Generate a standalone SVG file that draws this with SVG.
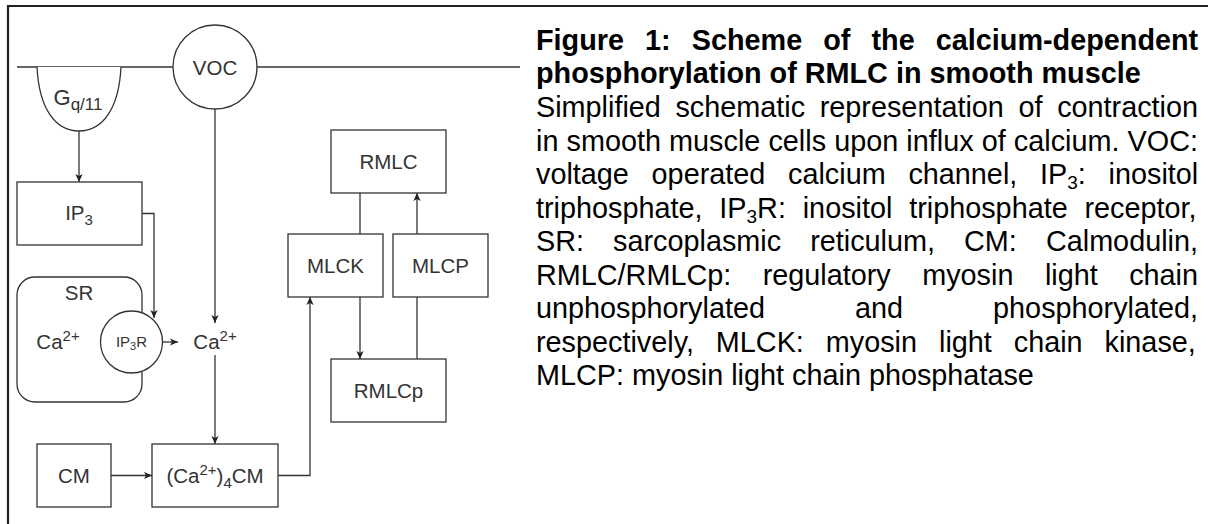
<svg xmlns="http://www.w3.org/2000/svg" width="1208" height="524" viewBox="0 0 1208 524">
<defs>
<style>
.box{fill:#fff;stroke:#333;stroke-width:1.3}
.ln{fill:none;stroke:#333;stroke-width:1.3}
.lbl{font-family:"Liberation Sans",Arial,sans-serif;font-size:20.5px;fill:#333;text-anchor:middle}
.sm{font-size:15px}
.cap{font-family:"Liberation Sans",Arial,sans-serif;font-size:28.8px;fill:#000}
.capb{font-weight:bold}
</style>
<marker id="arr" viewBox="0 0 10 10" refX="10" refY="5" markerWidth="8" markerHeight="8" markerUnits="userSpaceOnUse" orient="auto">
<path d="M0,0.5 L10,5 L0,9.5 L2.5,5 Z" fill="#222"/>
</marker>
</defs>
<rect width="1208" height="524" fill="#fff"/>
<path d="M8,530 V6 H1214" fill="none" stroke="#222" stroke-width="2.2"/>

<g id="membrane">
<line class="ln" x1="17" y1="67" x2="173" y2="67"/>
<line class="ln" x1="257" y1="67" x2="520" y2="67"/>
</g>

<g id="connectors">
<line class="ln" x1="79" y1="131" x2="79" y2="182" marker-end="url(#arr)"/>
<polyline class="ln" points="142,213.5 154,213.5 154,318" marker-end="url(#arr)"/>
<line class="ln" x1="163" y1="342" x2="178" y2="342" marker-end="url(#arr)"/>
<line class="ln" x1="215" y1="109" x2="215" y2="323" marker-end="url(#arr)"/>
<line class="ln" x1="215" y1="355" x2="215" y2="444" marker-end="url(#arr)"/>
<line class="ln" x1="111" y1="475.5" x2="152" y2="475.5" marker-end="url(#arr)"/>
<polyline class="ln" points="278,475.5 310,475.5 310,297" marker-end="url(#arr)"/>
<line class="ln" x1="360" y1="193" x2="360" y2="234"/>
<line class="ln" x1="360" y1="297" x2="360" y2="359" marker-end="url(#arr)"/>
<line class="ln" x1="417" y1="359" x2="417" y2="297"/>
<line class="ln" x1="417" y1="234" x2="417" y2="193" marker-end="url(#arr)"/>
</g>

<g id="gq11">
<path class="box" d="M37,67 C39,108 55,131 79,131 C103,131 119,108 121,67"/>
<text class="lbl" x="78" y="105" style="font-size:22px">G<tspan style="font-size:17px" dy="5">q/11</tspan></text>
</g>

<g id="voc">
<circle class="box" cx="215" cy="67" r="42"/>
<text class="lbl" x="215" y="75">VOC</text>
</g>

<g id="ip3">
<rect class="box" x="17" y="182" width="125" height="63"/>
<text class="lbl" x="79" y="220">IP<tspan class="sm" dy="5">3</tspan></text>
</g>

<g id="sr">
<rect class="box" x="17" y="277" width="125" height="125" rx="18"/>
<text class="lbl" x="79" y="300">SR</text>
<text class="lbl" x="58" y="349">Ca<tspan class="sm" dy="-8">2+</tspan></text>
</g>

<g id="ip3r">
<circle class="box" cx="131.5" cy="342" r="31"/>
<text class="lbl" x="131.5" y="347" style="font-size:15px">IP<tspan style="font-size:11px" dy="3">3</tspan><tspan dy="-3">R</tspan></text>
</g>

<g id="ca">
<text class="lbl" x="215" y="349">Ca<tspan class="sm" dy="-8">2+</tspan></text>
</g>

<g id="cm">
<rect class="box" x="37" y="444" width="74" height="63"/>
<text class="lbl" x="74" y="483">CM</text>
</g>

<g id="ca4cm">
<rect class="box" x="152" y="444" width="126" height="63"/>
<text class="lbl" x="215" y="483">(Ca<tspan class="sm" dy="-8">2+</tspan><tspan dy="8">)</tspan><tspan class="sm" dy="5">4</tspan><tspan dy="-5">CM</tspan></text>
</g>

<g id="mlck">
<rect class="box" x="288" y="234" width="95" height="63"/>
<text class="lbl" x="335.5" y="273">MLCK</text>
</g>

<g id="mlcp">
<rect class="box" x="393" y="234" width="95" height="63"/>
<text class="lbl" x="440.5" y="273">MLCP</text>
</g>

<g id="rmlc">
<rect class="box" x="331" y="130" width="115" height="63"/>
<text class="lbl" x="388.5" y="169">RMLC</text>
</g>

<g id="rmlcp">
<rect class="box" x="331" y="359" width="115" height="63"/>
<text class="lbl" x="388.5" y="398">RMLCp</text>
</g>

<g id="caption" class="cap">
<text class="cap capb" x="536" y="50" word-spacing="13.07">Figure 1: Scheme of the calcium-dependent</text>
<text class="cap capb" x="536" y="83">phosphorylation of RMLC in smooth muscle</text>
<text class="cap" x="536" y="117" word-spacing="6.64">Simplified schematic representation of contraction</text>
<text class="cap" x="536" y="150.5" word-spacing="0.12">in smooth muscle cells upon influx of calcium. VOC:</text>
<text class="cap" x="536" y="184" word-spacing="14.75">voltage operated calcium channel, IP<tspan style="font-size:19px" dy="5">3</tspan><tspan dy="-5">: inositol</tspan></text>
<text class="cap" x="536" y="217.5" word-spacing="8.82">triphosphate, IP<tspan style="font-size:19px" dy="5">3</tspan><tspan dy="-5">R: inositol triphosphate receptor,</tspan></text>
<text class="cap" x="536" y="251" word-spacing="21.07">SR: sarcoplasmic reticulum, CM: Calmodulin,</text>
<text class="cap" x="536" y="284.5" word-spacing="23.47">RMLC/RMLCp: regulatory myosin light chain</text>
<text class="cap" x="536" y="318" word-spacing="82.04">unphosphorylated and phosphorylated,</text>
<text class="cap" x="536" y="351.5" word-spacing="13.95">respectively, MLCK: myosin light chain kinase,</text>
<text class="cap" x="536" y="385">MLCP: myosin light chain phosphatase</text>
</g>
</svg>
